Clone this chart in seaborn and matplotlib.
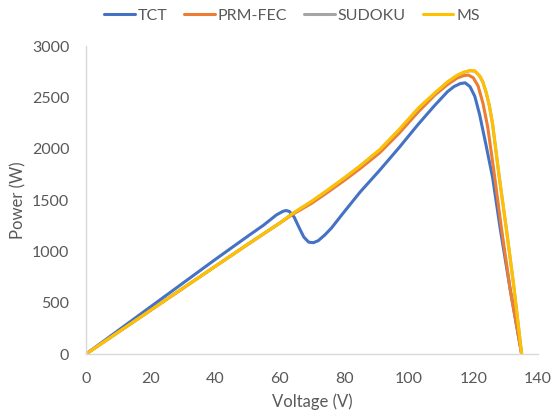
import matplotlib
matplotlib.use("Agg")
import matplotlib.pyplot as plt
import seaborn as sns
import pandas as pd

# ---- data ----
tct_v = [0, 10, 20, 30, 40, 50, 55, 57, 59, 61, 62, 63, 64.5, 66, 67.5, 69, 70.5, 72, 74,
         76, 80, 85, 91, 97, 103, 108, 112, 114, 116, 117.5, 119, 120.5, 122, 124, 126,
         128.3, 131.5, 135]
tct_p = [0, 230, 460, 690, 920, 1145, 1255, 1305, 1355, 1390, 1398, 1390, 1335, 1235,
         1140, 1090, 1085, 1105, 1160, 1225, 1385, 1580, 1790, 2010, 2240, 2420, 2555,
         2605, 2635, 2642, 2605, 2510, 2330, 2030, 1720, 1235, 620, 0]

prm_v = [0, 10, 20, 30, 40, 50, 60, 64, 70, 75, 80, 85, 91, 97, 103, 108, 112, 115, 117,
         118.5, 120, 121.5, 123, 124.5, 126.5, 128.7, 131.5, 135]
prm_p = [0, 213, 426, 640, 853, 1066, 1275, 1360, 1470, 1578, 1690, 1808, 1960, 2150,
         2360, 2520, 2625, 2688, 2712, 2718, 2692, 2612, 2445, 2210, 1760, 1235, 620, 0]

sud_v = [0, 10, 20, 30, 40, 50, 60, 64, 70, 75, 80, 85, 91, 97, 103, 108, 112, 115, 117,
         119, 120.5, 122, 123, 124, 125, 126, 128, 130.2, 132.5, 135]
sud_p = [0, 213, 426, 640, 853, 1066, 1275, 1368, 1488, 1598, 1713, 1833, 1988, 2183,
         2393, 2538, 2648, 2713, 2743, 2760, 2756, 2708, 2648, 2548, 2418, 2238, 1738,
         1233, 678, 0]

ms_v = [0, 10, 20, 30, 40, 50, 60, 64, 70, 75, 80, 85, 91, 97, 103, 108, 112, 115, 117,
        119, 120.5, 122, 123, 124, 125, 126, 128, 130.2, 132.5, 135]
ms_p = [0, 213, 426, 640, 853, 1066, 1275, 1368, 1490, 1600, 1715, 1835, 1990, 2185,
        2395, 2540, 2650, 2715, 2745, 2762, 2758, 2710, 2650, 2550, 2420, 2240, 1740,
        1235, 680, 0]

series_names = ["TCT", "PRM-FEC", "SUDOKU", "MS"]
colors = ["#4472C4", "#ED7D31", "#A5A5A5", "#FFC000"]
x_ticks = [0, 20, 40, 60, 80, 100, 120, 140]
y_ticks = [0, 500, 1000, 1500, 2000, 2500, 3000]

frames = []
for name, v, p in zip(series_names, [tct_v, prm_v, sud_v, ms_v], [tct_p, prm_p, sud_p, ms_p]):
    frames.append(pd.DataFrame({"Voltage": v, "Power": p, "Series": name}))
df = pd.concat(frames, ignore_index=True)

sns.set_theme(style="white")
plt.rcParams["font.family"] = ["Lato", "DejaVu Sans"]
text_color = "#595959"

fig = plt.figure(figsize=(5.51, 4.19), dpi=100)
ax = fig.add_axes([0.156, 0.155, 0.820, 0.735])

sns.lineplot(data=df, x="Voltage", y="Power", hue="Series", hue_order=series_names,
             palette=colors, sort=False, estimator=None, linewidth=2.2, ax=ax,
             solid_capstyle="round", solid_joinstyle="round")

ax.set_xlim(0, 140)
ax.set_ylim(0, 3000)
ax.set_xticks(x_ticks)
ax.set_yticks(y_ticks)
ax.tick_params(axis="both", length=0, labelsize=11.5, colors=text_color)
ax.tick_params(axis="x", pad=13)
ax.tick_params(axis="y", pad=12)
ax.set_xlabel("Voltage (V)", fontsize=12, color=text_color, labelpad=5)
ax.set_ylabel("Power (W)", fontsize=12, color=text_color, labelpad=4)

for s in ["top", "right"]:
    ax.spines[s].set_visible(False)
for s in ["left", "bottom"]:
    ax.spines[s].set_color("#D9D9D9")
    ax.spines[s].set_linewidth(1.0)

ax.legend_.remove()
handles, labels = ax.get_legend_handles_labels()
leg = fig.legend(handles, labels, loc="center", bbox_to_anchor=(0.53, 0.962), ncol=4,
                 frameon=False, fontsize=11.5, handlelength=1.9, handletextpad=0.2,
                 columnspacing=1.05)
for t in leg.get_texts():
    t.set_color(text_color)
for l in leg.get_lines():
    l.set_linewidth(2.2)

fig.savefig("out.png", dpi=100)
